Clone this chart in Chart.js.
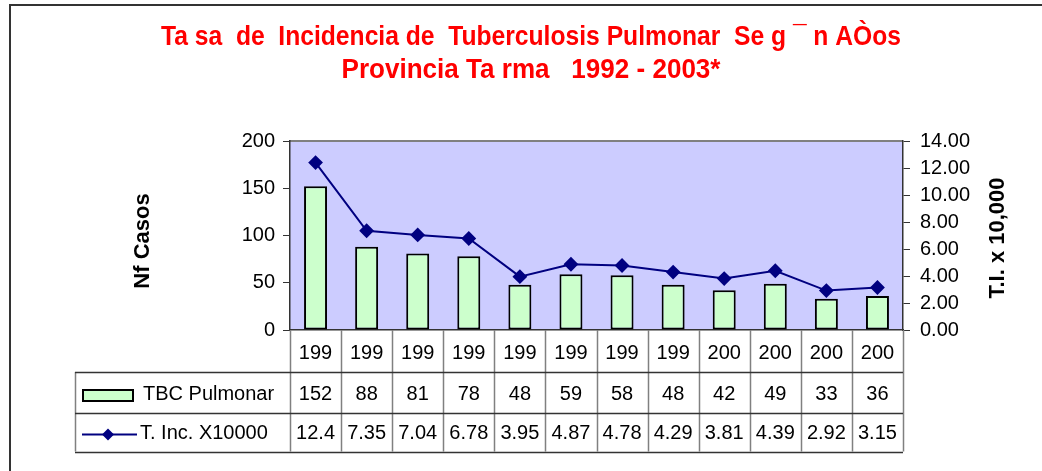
<!DOCTYPE html>
<html>
<head>
<meta charset="utf-8">
<script src="https://cdn.jsdelivr.net/npm/chart.js@4.4.0/dist/chart.umd.min.js"></script>
<style>
  html, body { margin: 0; padding: 0; background: #fff; }
</style>
</head>
<body>
<canvas id="tbcChart" width="1042" height="471"></canvas>
<script>
// Data
const years = ['1992', '1993', '1994', '1995', '1996', '1997', '1998', '1999', '2000', '2001', '2002', '2003'];
const tickLabels = ['199', '199', '199', '199', '199', '199', '199', '199', '200', '200', '200', '200'];
const casos = [152, 88, 81, 78, 48, 59, 58, 48, 42, 49, 33, 36];
const tasa = [12.4, 7.35, 7.04, 6.78, 3.95, 4.87, 4.78, 4.29, 3.81, 4.39, 2.92, 3.15];
const seriesNames = ['TBC Pulmonar', 'T. Inc. X10000'];
const titleLines = ['Ta sa  de  Incidencia de  Tuberculosis Pulmonar  Se g \u00AF n A\u00D2os', 'Provincia Ta rma   1992 - 2003*'];
const leftTitle = 'Nf Casos';
const rightTitle = 'T.I. x 10,000';

const FONT = '"Liberation Sans", Arial, sans-serif';
Chart.defaults.font.family = FONT;
Chart.defaults.color = '#000';

const barFill = '#CCFFCC';
const lineColor = '#000080';

// background, frame, titles and the data table below the axis
const tablePlugin = {
  id: 'tablePlugin',
  beforeDraw(chart) {
    const { ctx, chartArea: a } = chart;
    ctx.save();
    ctx.fillStyle = '#fff';
    ctx.fillRect(0, 0, chart.width, chart.height);
    ctx.fillStyle = '#CCCCFF';
    ctx.fillRect(a.left, a.top, a.right - a.left, a.bottom - a.top);
    ctx.strokeStyle = '#808080';
    ctx.lineWidth = 2;
    ctx.beginPath();
    ctx.moveTo(a.left, a.top);
    ctx.lineTo(a.right, a.top);
    ctx.stroke();
    ctx.restore();
  },
  afterDraw(chart) {
    const { ctx, chartArea: a } = chart;
    const n = tickLabels.length;
    const w = (a.right - a.left) / n;
    const row1 = chart.scales.x.bottom;   // top of first value row
    const rowH = 40.5;
    const row2 = row1 + rowH;
    const tableBottom = row2 + 39;
    const tableLeft = 75;

    ctx.save();
    // outer frame
    ctx.strokeStyle = '#333';
    ctx.lineWidth = 2;
    ctx.strokeRect(10, 5, 1100, 600);

    // title (condensed face)
    ctx.fillStyle = '#FF0000';
    ctx.textAlign = 'center';
    ctx.textBaseline = 'middle';
    ctx.font = 'bold 27px "Liberation Sans Narrow", "Arial Narrow", ' + FONT;
    const targets = [740, 379];
    const ys = [38, 71];
    titleLines.forEach((t, i) => {
      const mw = ctx.measureText(t).width;
      const sx = targets[i] / mw;
      ctx.save();
      ctx.translate(531, ys[i]);
      ctx.scale(sx, 1);
      ctx.fillText(t, 0, 0);
      ctx.restore();
    });

    // axis titles
    ctx.fillStyle = '#000';
    ctx.font = 'bold 22px ' + FONT;
    ctx.save();
    ctx.translate(143, 241);
    ctx.rotate(-Math.PI / 2);
    ctx.fillText(leftTitle, 0, 0);
    ctx.restore();
    ctx.save();
    ctx.translate(998, 238);
    ctx.rotate(-Math.PI / 2);
    ctx.fillText(rightTitle, 0, 0);
    ctx.restore();

    // grid of the table
    ctx.lineWidth = 1.5;
    ctx.strokeStyle = '#808080';
    ctx.beginPath();
    for (let i = 0; i <= n; i++) {
      const x = Math.round(a.left + i * w) + 0.5;
      ctx.moveTo(x, a.bottom);
      ctx.lineTo(x, tableBottom);
    }
    ctx.moveTo(tableLeft + 0.5, row1);
    ctx.lineTo(tableLeft + 0.5, tableBottom);
    ctx.stroke();
    ctx.strokeStyle = '#333';
    ctx.beginPath();
    [row1, row2, tableBottom].forEach(y => {
      ctx.moveTo(tableLeft, Math.round(y) + 0.5);
      ctx.lineTo(a.right, Math.round(y) + 0.5);
    });
    ctx.stroke();

    // values
    ctx.fillStyle = '#000';
    ctx.font = '20px ' + FONT;
    ctx.textAlign = 'center';
    for (let i = 0; i < n; i++) {
      const cx = chart.scales.x.getPixelForValue(i);
      ctx.fillText(String(casos[i]), cx, row1 + rowH / 2 + 2);
      ctx.fillText(String(tasa[i]), cx, row2 + 21);
    }

    // legend keys
    ctx.fillStyle = barFill;
    ctx.strokeStyle = '#000';
    ctx.lineWidth = 2;
    ctx.fillRect(83, row1 + 18, 50, 11);
    ctx.strokeRect(83, row1 + 18, 50, 11);
    ctx.strokeStyle = lineColor;
    ctx.beginPath();
    ctx.moveTo(82, row2 + 22);
    ctx.lineTo(137, row2 + 22);
    ctx.stroke();
    ctx.fillStyle = lineColor;
    ctx.beginPath();
    ctx.moveTo(108, row2 + 16);
    ctx.lineTo(114, row2 + 22);
    ctx.lineTo(108, row2 + 28);
    ctx.lineTo(102, row2 + 22);
    ctx.closePath();
    ctx.fill();

    ctx.fillStyle = '#000';
    ctx.textAlign = 'left';
    ctx.fillText(seriesNames[0], 143, row1 + rowH / 2 + 2);
    ctx.fillText(seriesNames[1], 140, row2 + 21);
    ctx.restore();
  }
};

new Chart(document.getElementById('tbcChart'), {
  type: 'bar',
  data: {
    labels: tickLabels,
    datasets: [
      {
        type: 'line',
        label: seriesNames[1],
        data: tasa,
        yAxisID: 'y1',
        borderColor: lineColor,
        backgroundColor: lineColor,
        borderWidth: 2,
        pointStyle: 'rectRot',
        pointRadius: 6,
        tension: 0,
        order: 0
      },
      {
        type: 'bar',
        label: seriesNames[0],
        data: casos,
        yAxisID: 'y',
        backgroundColor: barFill,
        borderColor: '#000',
        borderWidth: 2,
        borderSkipped: false,
        categoryPercentage: 1,
        barPercentage: 0.45,
        order: 1
      }
    ]
  },
  options: {
    responsive: false,
    animation: false,
    devicePixelRatio: 1,
    layout: { padding: { top: 141, left: 0, right: 0, bottom: 99 } },
    plugins: {
      legend: { display: false },
      title: { display: false },
      tooltip: { enabled: false }
    },
    scales: {
      x: {
        grid: { display: false },
        border: { display: true, color: '#333', width: 1.5 },
        ticks: { font: { size: 20 }, padding: 3, maxRotation: 0, autoSkip: false },
        afterFit(scale) { scale.height = 42; }
      },
      y: {
        position: 'left',
        min: 0,
        max: 200,
        ticks: { stepSize: 50, font: { size: 20 }, padding: 8 },
        grid: { drawOnChartArea: false, tickLength: 7, color: '#333' },
        border: { display: true, color: '#333', width: 1.5 },
        afterFit(scale) { scale.width = 290; }
      },
      y1: {
        position: 'right',
        min: 0,
        max: 14,
        ticks: { stepSize: 2, font: { size: 20 }, padding: 10, callback: v => v.toFixed(2) },
        grid: { drawOnChartArea: false, tickLength: 7, color: '#333' },
        border: { display: true, color: '#333', width: 1.5 },
        afterFit(scale) { scale.width = 139; }
      }
    }
  },
  plugins: [tablePlugin]
});
</script>
</body>
</html>
